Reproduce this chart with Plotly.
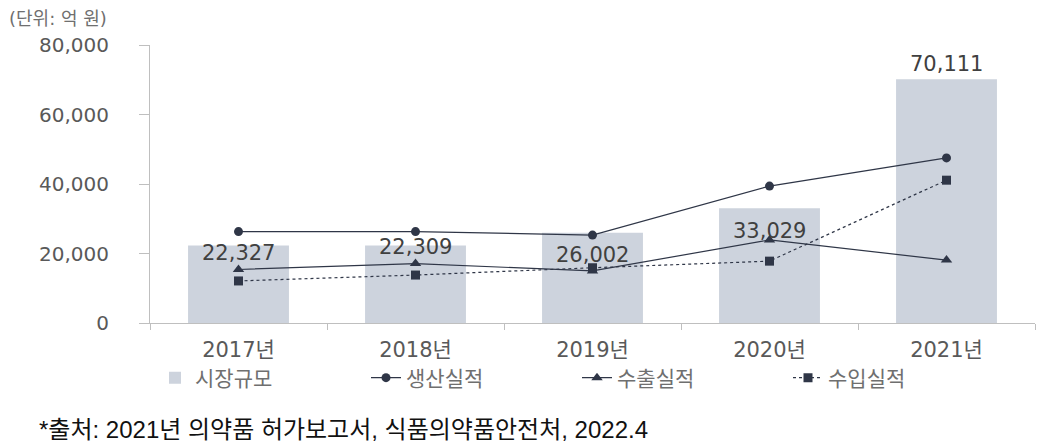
import plotly.graph_objects as go

years = ["2017년", "2018년", "2019년", "2020년", "2021년"]
market = [22327, 22309, 26002, 33029, 70111]
production = [26300, 26300, 25300, 39400, 47500]
exports = [15400, 17100, 15000, 23900, 18100]
imports = [12100, 13800, 15900, 17800, 41100]
market_labels = ["22,327", "22,309", "26,002", "33,029", "70,111"]
label_shift = [-8, -2, -22, -23, 15]

dark = "#2f3647"
bar_color = "#cdd3dd"
font_fam = "DejaVu Sans, Noto Sans CJK KR, sans-serif"

fig = go.Figure()
fig.add_trace(go.Bar(x=years, y=market, name="시장규모", marker_color=bar_color,
                     marker_line_width=0))
fig.add_trace(go.Scatter(x=years, y=production, name="생산실적", mode="lines+markers",
                         line=dict(color=dark, width=1.2),
                         marker=dict(symbol="circle", size=9, color=dark)))
fig.add_trace(go.Scatter(x=years, y=exports, name="수출실적", mode="lines+markers",
                         line=dict(color=dark, width=1.2),
                         marker=dict(symbol="triangle-up", size=10, color=dark)))
fig.add_trace(go.Scatter(x=years, y=imports, name="수입실적", mode="lines+markers",
                         line=dict(color=dark, width=1.2, dash="dot"),
                         marker=dict(symbol="square", size=9, color=dark)))

for yr, v, t, s in zip(years, market, market_labels, label_shift):
    fig.add_annotation(x=yr, y=v, text=t, showarrow=False, yanchor="middle", yshift=s,
                       font=dict(family=font_fam, size=21, color="#404040"))

fig.add_annotation(xref="paper", yref="paper", x=-143/885, y=1 + 26/278, xanchor="left",
                   yanchor="middle", text="(단위: 억 원)", showarrow=False,
                   font=dict(family="DejaVu Sans, Noto Sans CJK KR", size=18, color="#6f6f6f"))
fig.add_annotation(xref="paper", yref="paper", x=-113/885, y=-(429 - 323) / 278,
                   xanchor="left", yanchor="middle",
                   text="*출처: 2021년 의약품 허가보고서, 식품의약품안전처, 2022.4",
                   showarrow=False,
                   font=dict(family="Liberation Sans, Noto Sans CJK KR", size=24, color="#111111"))

fig.update_layout(
    width=1038, height=447,
    margin=dict(l=150, r=3, t=45, b=124),
    paper_bgcolor="white", plot_bgcolor="white",
    bargap=0.43,
    showlegend=True,
    legend=dict(orientation="h", x=5/885, xanchor="left", y=-(378 - 323) / 278,
                yanchor="middle", entrywidth=166, entrywidthmode="pixels",
                bgcolor="rgba(0,0,0,0)",
                font=dict(family="Noto Sans CJK KR", size=21, color="#6f6f6f"),
                traceorder="normal", itemclick=False),
    font=dict(family=font_fam),
)
fig.update_xaxes(showline=True, linecolor="#bfbfbf", linewidth=1,
                 ticks="outside", tickson="boundaries", ticklen=6, tickcolor="#bfbfbf",
                 ticklabelstandoff=8,
                 tickfont=dict(family=font_fam, size=21, color="#595959"),
                 showgrid=False, range=[-0.5, 4.5])
fig.update_yaxes(range=[0, 80000], dtick=20000, tickformat=",", showline=True,
                 linecolor="#bfbfbf", linewidth=1, ticks="outside", ticklen=10,
                 tickcolor="#bfbfbf", showgrid=False, zeroline=False,
                 ticklabelstandoff=26,
                 tickfont=dict(family=font_fam, size=20, color="#595959"))

fig.write_html("out.html")
